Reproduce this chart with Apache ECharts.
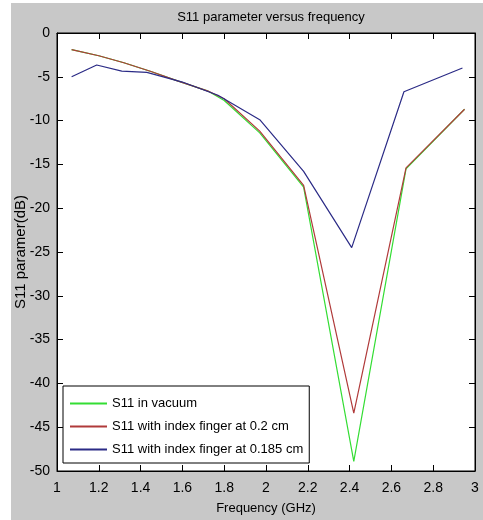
<!DOCTYPE html>
<html>
<head>
<meta charset="utf-8">
<script src="https://cdn.jsdelivr.net/npm/echarts@6/dist/echarts.min.js"></script>
<style>
  html, body { margin: 0; padding: 0; background: #fff; }
  #chart { width: 483px; height: 520px; }
</style>
</head>
<body>
<div id="chart"></div>
<script>
// values (GHz, dB)
var freqVacuum = [1.07, 1.2, 1.32, 1.45, 1.58, 1.72, 1.8, 1.97, 2.18, 2.42, 2.67, 2.95]
var s11Vacuum = [-1.9, -2.6, -3.4, -4.4, -5.5, -6.6, -7.7, -11.4, -17.6, -48.9, -15.5, -8.7]

var freqFinger02 = [1.07, 1.2, 1.32, 1.45, 1.58, 1.72, 1.8, 1.97, 2.18, 2.42, 2.67, 2.95]
var s11Finger02 = [-1.9, -2.6, -3.4, -4.4, -5.5, -6.6, -7.5, -11.2, -17.4, -43.4, -15.4, -8.7]

var freqFinger0185 = [1.07, 1.19, 1.31, 1.43, 1.6, 1.77, 1.97, 2.18, 2.41, 2.66, 2.94]
var s11Finger0185 = [-5.0, -3.65, -4.35, -4.5, -5.6, -7.1, -9.9, -15.8, -24.5, -6.7, -4.0]

var seriesNames = ['S11 in vacuum', 'S11 with index finger at 0.2 cm', 'S11 with index finger at 0.185 cm']
var colors = ['#33dd33', '#b03a3a', '#2b2b86']

function pairs (xs, ys) {
    return xs.map(function (x, i) { return [x, ys[i]] })
}

var font = "'Liberation Sans', Arial, sans-serif"

var hiddenAxis = {
    axisLabel: { show: false },
    axisLine: { show: true, lineStyle: { color: '#000', width: 1 } },
    axisTick: { show: true, inside: true, length: 6, lineStyle: { color: '#000' } },
    splitLine: { show: false }
}

var option = {
    animation: false,
    color: colors,
    textStyle: { fontFamily: font },
    graphic: [
        {
            type: 'rect',
            z: -10,
            shape: { x: 11, y: 3, width: 472, height: 517 },
            style: { fill: '#c8c8c8' }
        }
    ],
    title: {
        text: 'S11 parameter versus frequency',
        left: 266,
        textAlign: 'center',
        top: 6,
        textStyle: { fontFamily: font, fontSize: 13, fontWeight: 'normal', color: '#000' }
    },
    legend: {
        orient: 'vertical',
        left: 63,
        top: 386,
        padding: [11, 6, 7, 7],
        itemGap: 10,
        itemWidth: 37,
        itemHeight: 2,
        icon: 'rect',
        borderColor: '#000',
        borderWidth: 1,
        backgroundColor: '#fff',
        textStyle: { fontFamily: font, fontSize: 13, color: '#000' },
        data: seriesNames
    },
    grid: {
        left: 57,
        right: 8,
        top: 33,
        bottom: 49,
        outerBoundsMode: 'none',
        show: true,
        backgroundColor: '#fff',
        borderColor: '#000',
        borderWidth: 1
    },
    xAxis: [
        {
            type: 'value',
            min: 1,
            max: 3,
            interval: 0.2,
            name: 'Frequency (GHz)',
            nameLocation: 'middle',
            nameGap: 31,
            nameMoveOverlap: false,
            nameTextStyle: { fontFamily: font, fontSize: 13, color: '#000', verticalAlign: 'top' },
            axisLine: { show: true, onZero: false, lineStyle: { color: '#000' } },
            axisTick: { show: true, inside: true, length: 6, lineStyle: { color: '#000' } },
            axisLabel: { color: '#000', fontSize: 14, margin: 10 },
            splitLine: { show: false }
        },
        Object.assign({ type: 'value', position: 'top', min: 1, max: 3, interval: 0.2 }, hiddenAxis)
    ],
    yAxis: [
        {
            type: 'value',
            min: -50,
            max: 0,
            interval: 5,
            name: 'S11 paramer(dB)',
            nameLocation: 'middle',
            nameGap: 29,
            nameMoveOverlap: false,
            nameTextStyle: { fontFamily: font, fontSize: 15, color: '#000' },
            axisLine: { show: true, onZero: false, lineStyle: { color: '#000' } },
            axisTick: { show: true, inside: true, length: 6, lineStyle: { color: '#000' } },
            axisLabel: { color: '#000', fontSize: 14, margin: 7 },
            splitLine: { show: false }
        },
        Object.assign({ type: 'value', position: 'right', min: -50, max: 0, interval: 5 }, hiddenAxis)
    ],
    series: [
        {
            name: seriesNames[0],
            type: 'line',
            symbol: 'none',
            lineStyle: { width: 1.2 },
            data: pairs(freqVacuum, s11Vacuum)
        },
        {
            name: seriesNames[1],
            type: 'line',
            symbol: 'none',
            lineStyle: { width: 1.2 },
            data: pairs(freqFinger02, s11Finger02)
        },
        {
            name: seriesNames[2],
            type: 'line',
            symbol: 'none',
            lineStyle: { width: 1.2 },
            data: pairs(freqFinger0185, s11Finger0185)
        }
    ]
}

var myChart = echarts.init(document.getElementById('chart'))
myChart.setOption(option)
</script>
</body>
</html>
